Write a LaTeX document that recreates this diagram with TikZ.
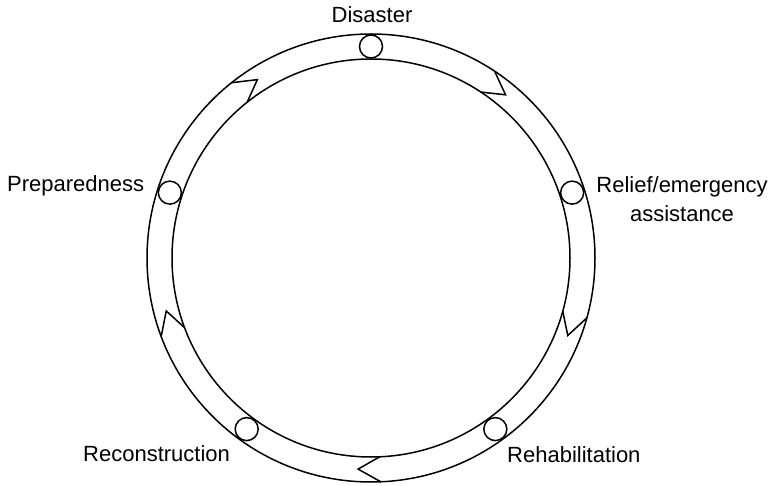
\documentclass[tikz,border=0pt]{standalone}
\usepackage{fontspec}
\setmainfont{Liberation Sans}
\begin{document}
\begin{tikzpicture}[x=1pt,y=-1pt,
  ringline/.style={line width=1.5pt,black},
  chevron/.style={line width=1.5pt,black,line join=miter},
  stagecirc/.style={circle,draw,line width=1.5pt,fill=white,minimum size=23pt,inner sep=0pt},
  lbl/.style={font=\fontsize{22}{26}\selectfont,inner sep=0pt}]
\useasboundingbox (0,0) rectangle (774,486);
\begin{scope}[shift={(371,258)},yscale=-1]
  \coordinate (c) at (0,0);
  % ring
  \draw[ringline] (c) circle[radius=224];
  \draw[ringline] (c) circle[radius=199];
  % chevrons showing clockwise flow
  \foreach \a [count=\i] in {56.5,-15.5,-87.5,-159.5,128.5}{
    \coordinate (out\i) at (\a:224);
    \coordinate (tip\i) at (\a-6:211.5);
    \coordinate (in\i) at (\a:199);
    \draw[chevron] (out\i) -- (tip\i) -- (in\i);
  }
  % stage circles
  \node[stagecirc] (sdis) at (90:211.5) {};
  \node[stagecirc] (srel) at (18:211.5) {};
  \node[stagecirc] (sreh) at (-54:211.5) {};
  \node[stagecirc] (srec) at (-126:211.5) {};
  \node[stagecirc] (sprep) at (162:211.5) {};
\end{scope}
% labels
\node[lbl,anchor=base] (tdis) at (372,23) {Disaster};
\node[lbl,anchor=base] (trel1) at (682,193) {Relief/emergency};
\node[lbl,anchor=base] (trel2) at (682,222) {assistance};
\node[lbl,anchor=base west] (tprep) at (7,192) {Preparedness};
\node[lbl,anchor=base west] (trec) at (83,461) {Reconstruction};
\node[lbl,anchor=base west] (treh) at (507,462) {Rehabilitation};
\end{tikzpicture}
\end{document}
